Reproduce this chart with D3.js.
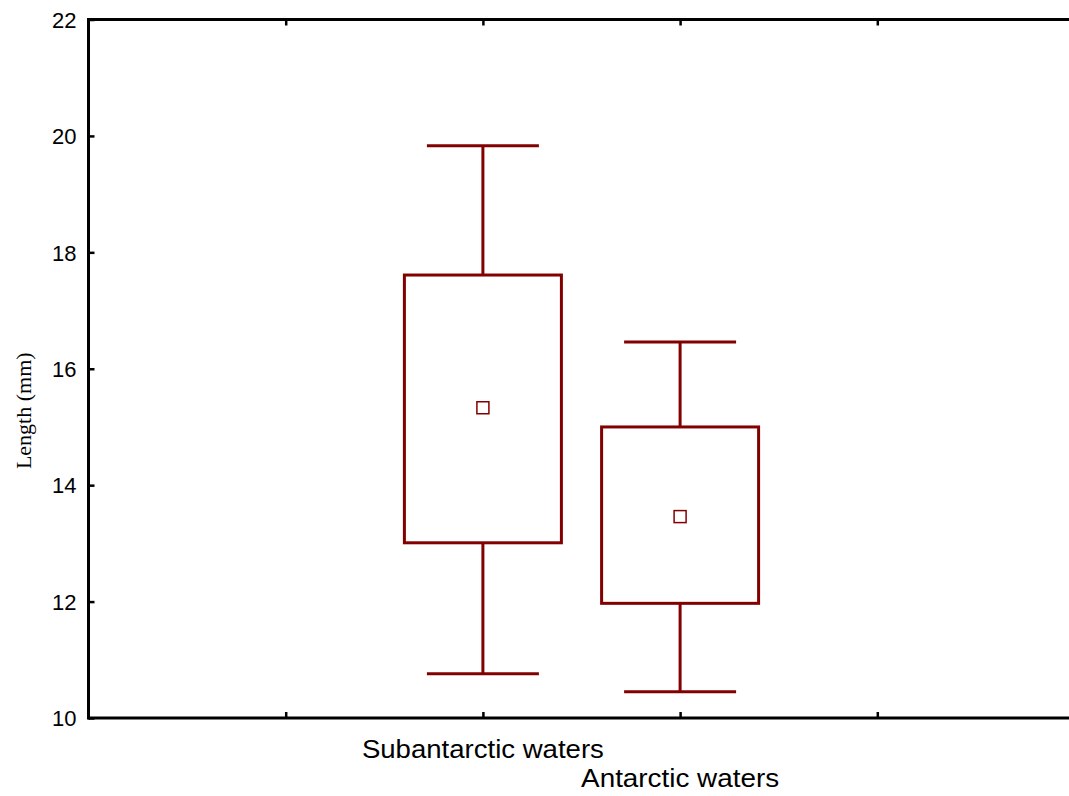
<!DOCTYPE html>
<html>
<head>
<meta charset="utf-8">
<script src="https://cdn.jsdelivr.net/npm/d3@7"></script>
<style>
html,body{margin:0;padding:0;background:#fff;}
svg{display:block;}
</style>
</head>
<body>
<svg id="chart" width="1069" height="796"></svg>
<script>
const categories = ["Subantarctic waters", "Antarctic waters"];
const catPositions = [2, 3];
const means = [15.33, 13.46];
const boxLow = [13.01, 11.97];
const boxHigh = [17.61, 15.00];
const whiskerLow = [10.76, 10.45];
const whiskerHigh = [19.83, 16.46];
const yTicks = [10, 12, 14, 16, 18, 20, 22];
const xTicks = [1, 2, 3, 4];
const yLabel = "Length (mm)";

(function () {
const svg = d3.select("#chart");
const pL = 88.5, pT = 19.5, pB = 718, pR = 1074.5;
const x = d3.scaleLinear().domain([0, 5]).range([pL, pR]);
const y = d3.scaleLinear().domain([10, 22]).range([pB, pT]);
const red = "#820000";

const boxW = 157, capW = 112;
const g = svg.append("g");
categories.forEach((c, i) => {
  const cx = x(catPositions[i]);
  g.append("line").attr("x1", cx).attr("x2", cx).attr("y1", y(boxHigh[i])).attr("y2", y(whiskerHigh[i]))
    .attr("stroke", red).attr("stroke-width", 3);
  g.append("line").attr("x1", cx).attr("x2", cx).attr("y1", y(boxLow[i])).attr("y2", y(whiskerLow[i]))
    .attr("stroke", red).attr("stroke-width", 3);
  g.append("line").attr("x1", cx - capW/2).attr("x2", cx + capW/2).attr("y1", y(whiskerHigh[i])).attr("y2", y(whiskerHigh[i]))
    .attr("stroke", red).attr("stroke-width", 3);
  g.append("line").attr("x1", cx - capW/2).attr("x2", cx + capW/2).attr("y1", y(whiskerLow[i])).attr("y2", y(whiskerLow[i]))
    .attr("stroke", red).attr("stroke-width", 3);
  g.append("rect").attr("x", cx - boxW/2).attr("y", y(boxHigh[i]))
    .attr("width", boxW).attr("height", y(boxLow[i]) - y(boxHigh[i]))
    .attr("fill", "none").attr("stroke", red).attr("stroke-width", 3);
  g.append("rect").attr("x", cx - 6).attr("y", y(means[i]) - 6).attr("width", 12).attr("height", 12)
    .attr("fill", "#fff").attr("stroke", red).attr("stroke-width", 1.5);
});

const axisStyle = sel => sel.attr("stroke", "#000").attr("stroke-width", 3);
svg.append("line").attr("x1", pL).attr("x2", pR).attr("y1", pT).attr("y2", pT).call(axisStyle);
svg.append("line").attr("x1", pL).attr("x2", pR).attr("y1", pB).attr("y2", pB).call(axisStyle);
svg.append("line").attr("x1", pL).attr("x2", pL).attr("y1", pT - 1.5).attr("y2", pB + 1.5).call(axisStyle);

const yAxis = d3.axisLeft(y).tickValues(yTicks).tickSizeInner(-6).tickSizeOuter(0).tickPadding(12).tickFormat(d3.format("d"));
const ya = svg.append("g").attr("transform", `translate(${pL},0)`).call(yAxis);
ya.select(".domain").remove();
ya.selectAll(".tick line").attr("stroke", "#000").attr("stroke-width", 2.5);
ya.selectAll(".tick text").attr("font-family", "Liberation Sans, Arial, sans-serif").attr("font-size", 22).attr("fill", "#000")
  .attr("dy", "0.35em");

const xb = d3.axisBottom(x).tickValues(xTicks).tickSizeInner(-6).tickSizeOuter(0).tickFormat("");
const xbg = svg.append("g").attr("transform", `translate(0,${pB})`).call(xb);
xbg.select(".domain").remove();
xbg.selectAll(".tick line").attr("stroke", "#000").attr("stroke-width", 2.5);
const xt = d3.axisTop(x).tickValues(xTicks).tickSizeInner(-6).tickSizeOuter(0).tickFormat("");
const xtg = svg.append("g").attr("transform", `translate(0,${pT})`).call(xt);
xtg.select(".domain").remove();
xtg.selectAll(".tick line").attr("stroke", "#000").attr("stroke-width", 2.5);

const labelY = [758, 787];
const labelW = [242, 198];
categories.forEach((c, i) => {
  svg.append("text").attr("x", x(catPositions[i])).attr("y", labelY[i])
    .attr("text-anchor", "middle")
    .attr("font-family", "Liberation Sans, Arial, sans-serif").attr("font-size", 25)
    .attr("textLength", labelW[i]).attr("lengthAdjust", "spacingAndGlyphs")
    .attr("fill", "#000").text(c);
});

svg.append("text").attr("transform", `translate(31,${(pT + pB) / 2 + 42}) rotate(-90)`)
  .attr("text-anchor", "middle")
  .attr("font-family", "Liberation Serif, Times New Roman, serif").attr("font-size", 22)
  .attr("fill", "#000").text(yLabel);
})();
</script>
</body>
</html>
